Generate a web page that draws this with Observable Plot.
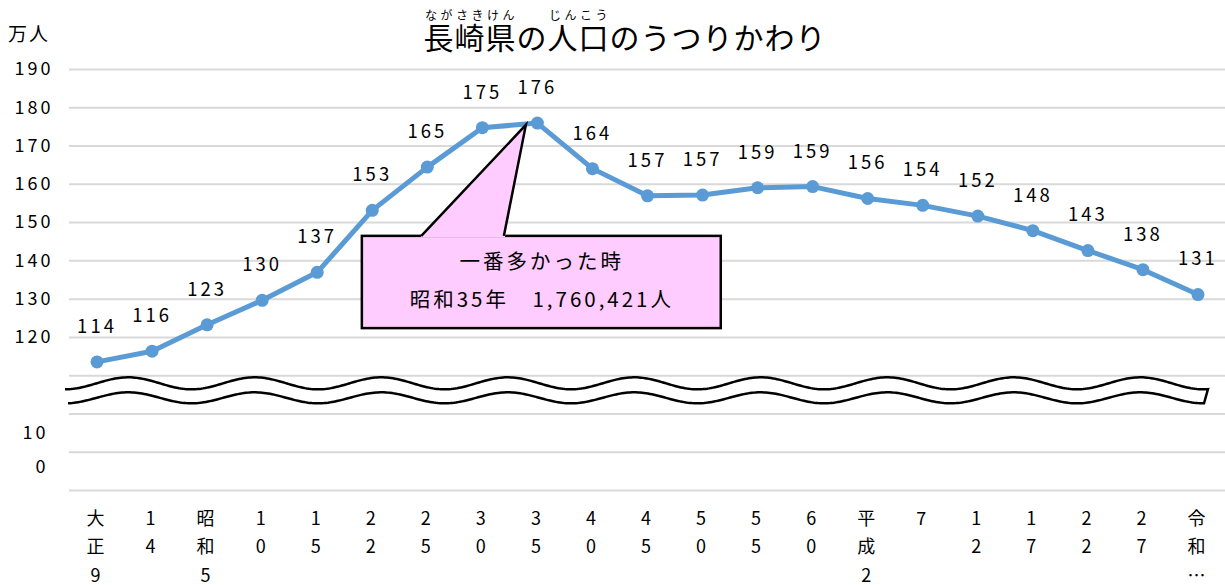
<!DOCTYPE html>
<html><head><meta charset="utf-8">
<script src="https://cdn.jsdelivr.net/npm/d3@7"></script>
<script src="https://cdn.jsdelivr.net/npm/@observablehq/plot@0.6"></script>
<style>
body{margin:0;background:#fff;font-family:"Noto Sans CJK JP","Noto Sans",sans-serif;color:#000}
#wrap{position:relative;width:1225px;height:585px;overflow:hidden}
#title{position:absolute;left:0;top:9px;width:1250px;text-align:center;font-size:30px;line-height:1.25;letter-spacing:1px}
#title rt{font-size:12px;letter-spacing:0.5px}
#unit{position:absolute;left:8px;top:19px;font-size:19px;letter-spacing:2px}
#chart svg text{letter-spacing:3px}
</style></head>
<body>
<div id="wrap">
<div id="chart"></div>
<div id="title"><ruby>長崎県<rt>ながさきけん</rt></ruby>の<ruby>人口<rt>じんこう</rt></ruby>のうつりかわり</div>
<div id="unit">万人</div>
</div>
<script>
const categories = ["大正9","14","昭和5","10","15","22","25","30","35","40","45","50","55","60","平成2","7","12","17","22","27","令和…"];
const values = [113.6,116.4,123.3,129.7,137.0,153.2,164.5,174.8,176.0,164.1,157.0,157.2,159.1,159.4,156.3,154.5,151.7,147.9,142.7,137.7,131.2];
const labels = ["114","116","123","130","137","153","165","175","176","164","157","157","159","159","156","154","152","148","143","138","131"];
const yTicks = [190,180,170,160,150,140,130,120];
const gridValues = [190,180,170,160,150,140,130,120,110,100,90,80];
const lowerTicks = ["10","0"];
const peakEra = "昭和35年";
const peakPopulation = 1760421;
const calloutTitle = "一番多かった時";

const font = '"Noto Sans CJK JP","Noto Sans",sans-serif';
const data = categories.map((c,i)=>({i, c, v: values[i], label: labels[i]}));
const p = values.indexOf(d3.max(values));
const calloutLines = [calloutTitle, `${peakEra}　${d3.format(",")(peakPopulation)}人`];

const chart = Plot.plot({
  width:1225, height:585,
  marginTop:69, marginBottom:95, marginLeft:69, marginRight:0,
  x:{type:"linear", domain:[-0.5, categories.length-0.5], axis:null},
  y:{domain:[80,190], axis:null},
  style:{fontFamily:font, fontSize:"18px", background:"transparent", overflow:"visible", color:"#000"},
  marks:[
    Plot.ruleY(gridValues, {stroke:"#d9d9d9", strokeWidth:2}),
    Plot.text(yTicks, {y:d=>d, text:d=>String(d), frameAnchor:"left", textAnchor:"end", dx:-16, fontSize:18, fill:"#000"}),
    Plot.text(lowerTicks, {y:(d,i)=>95-9*i, text:d=>d, frameAnchor:"left", textAnchor:"end", dx:-21, fontSize:18, fill:"#000"}),
    Plot.line(data, {x:"i", y:"v", stroke:"#5B9BD5", strokeWidth:5}),
    Plot.dot(data, {x:"i", y:"v", r:6.5, fill:"#5B9BD5"}),
    Plot.text(data, {x:"i", y:"v", text:"label", dy:-35, fontSize:18.5, fill:"#000"}),
    Plot.text(data, {x:"i", text:d=>Array.from(d.c).join("\n"), frameAnchor:"bottom", lineAnchor:"top", dy:14, lineHeight:1.58, fontSize:18, fill:"#000"}),
    Plot.rect([0], {x1:()=>p-3.18, x2:()=>p+3.34, y1:()=>122.3, y2:()=>146.4, fill:"#FFCCFF", stroke:"#000", strokeWidth:2.5}),
    Plot.text(calloutLines, {x:()=>p+0.08, y:(d,i)=>139.6-10*i, text:d=>d, fontSize:20.5, fill:"#000"})
  ]
});
document.getElementById("chart").appendChild(chart);

const sx = chart.scale("x"), sy = chart.scale("y");
const X = v=>sx.apply(v), Y = v=>sy.apply(v);
const svg = d3.select(chart);

// callout pointer
const bx1 = X(p-2.1), bx2 = X(p-0.6), by = Y(146.4);
const tx = X(p-0.2), ty = Y(175.4);
svg.append("path").attr("d",`M${bx1-1},${by+1.5}L${tx},${ty}L${bx2+1},${by+1.5}Z`).attr("fill","#FFCCFF");
svg.append("path").attr("d",`M${bx1},${by}L${tx},${ty}L${bx2},${by}`).attr("fill","none").attr("stroke","#000").attr("stroke-width",2.5).attr("stroke-linejoin","miter");

// axis break wave
const c = (Y(110)+Y(100))/2 - 4;
const period = 126.5, x0 = X(-0.5) - 4;
const up = d3.range(x0, X(20.5)-17, 2).concat([X(20.5)-17]).map(x=>[x, c-7+6*Math.cos(2*Math.PI*(x-x0)/period)]);
const lo = d3.range(x0+3, X(20.5)-21, 2).concat([X(20.5)-21]).map(x=>[x, c+7.5+5.5*Math.cos(2*Math.PI*(x-x0)/period)]);
const line = d3.line();
const fillPts = up.concat(lo.slice().reverse());
svg.append("path").attr("d", line(fillPts)+"Z").attr("fill","#fff");
svg.append("path").attr("d", line(up.concat(lo.slice().reverse()))).attr("fill","none").attr("stroke","#000").attr("stroke-width",2.5);
</script>
</body></html>
